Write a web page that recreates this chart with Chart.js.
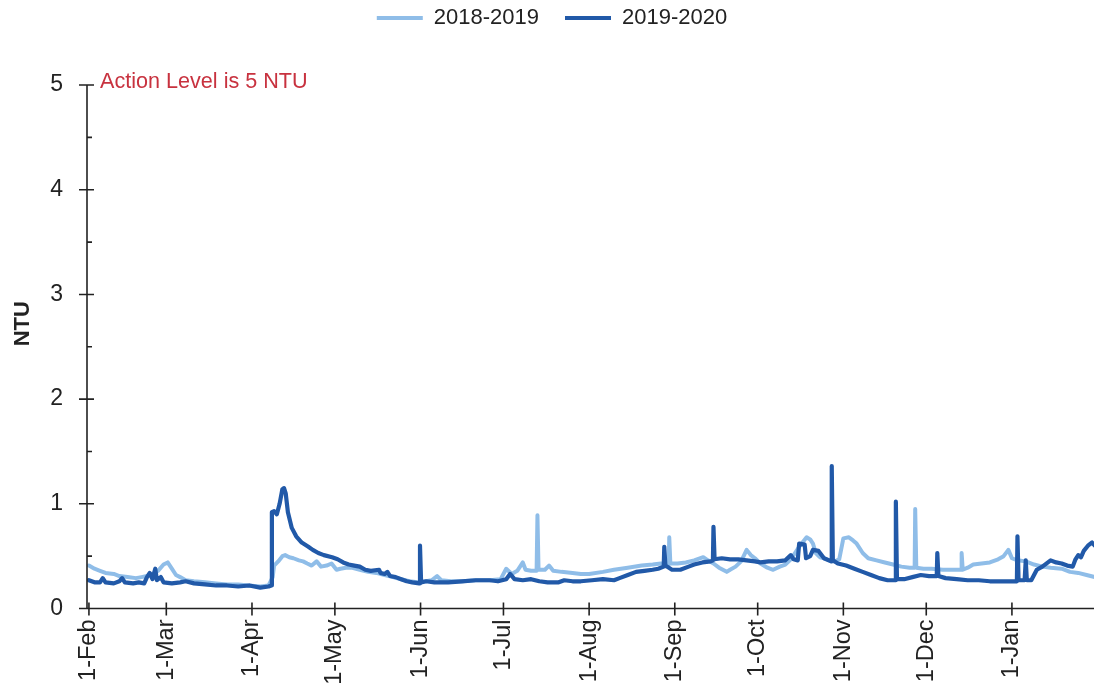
<!DOCTYPE html>
<html>
<head>
<meta charset="utf-8">
<title>Turbidity (NTU)</title>
<script src="https://cdn.jsdelivr.net/npm/chart.js@4.4.1/dist/chart.umd.min.js"></script>
<style>
  html, body { margin: 0; padding: 0; background: #ffffff; }
  #wrap { width: 1094px; height: 692px; position: relative; }
</style>
</head>
<body>
<div id="wrap"><canvas id="chart"></canvas></div>
<script>
// Day offsets (from 1-Feb) of the month ticks and their labels
const monthDays = [0, 28, 59, 89, 120, 150, 181, 212, 242, 273, 303, 334];
const monthLabels = ['1-Feb', '1-Mar', '1-Apr', '1-May', '1-Jun', '1-Jul', '1-Aug', '1-Sep', '1-Oct', '1-Nov', '1-Dec', '1-Jan'];
const ntuTicks = [0, 1, 2, 3, 4, 5];
const seriesNames = ['2018-2019', '2019-2020'];
const actionLevel = 5;

// 2018-2019 turbidity readings (day offset, NTU)
const days1819 = [0, 2, 4, 6, 9, 11, 14, 17, 19, 21, 23, 25, 27, 28.5, 30, 31.5, 33, 35, 38, 42, 46, 50, 54, 58, 62, 65,
  66.5, 67, 68.5, 70, 71, 72.5, 74, 76, 77.5, 79, 80.6, 82.4, 84, 86, 87.8, 89.6, 91, 93, 95, 98, 101, 104, 107, 110,
  113, 116, 119, 122, 124, 126, 127.5, 131, 135, 140, 145, 149, 151, 153, 155, 157, 158, 160, 162, 162.3, 162.7, 165,
  166.5, 168, 171, 175, 178, 181, 186, 190, 195, 200, 204, 207, 209.8, 210, 210.4, 213, 216, 219, 222.3, 224, 226, 228,
  230.8, 232, 234, 236, 238, 239.5, 241, 243, 245.5, 247.6, 250, 252, 254, 257, 259.7, 261, 262, 263, 264.5, 266, 268,
  270, 271.5, 273, 275, 276.5, 277.8, 280, 282, 285, 288, 291, 294, 297, 298.8, 299, 299.4, 302, 305, 309, 312, 315.6,
  315.8, 316.2, 318, 320, 323, 326, 329, 331, 332.7, 334, 336, 339, 342, 345, 348, 352, 355, 358, 361, 364];
const ntu1819 = [0.41, 0.38, 0.36, 0.34, 0.33, 0.31, 0.30, 0.29, 0.30, 0.31, 0.33, 0.36, 0.42, 0.44, 0.38, 0.32, 0.30, 0.27, 0.26, 0.25, 0.24, 0.23, 0.23, 0.22, 0.21, 0.22,
  0.30, 0.41, 0.45, 0.50, 0.51, 0.49, 0.48, 0.46, 0.45, 0.43, 0.41, 0.45, 0.40, 0.41, 0.43, 0.37, 0.38, 0.39, 0.39, 0.37, 0.35, 0.34, 0.32, 0.30,
  0.28, 0.26, 0.25, 0.26, 0.27, 0.31, 0.27, 0.26, 0.26, 0.27, 0.27, 0.28, 0.38, 0.33, 0.36, 0.44, 0.37, 0.36, 0.36, 0.89, 0.37, 0.37,
  0.41, 0.36, 0.35, 0.34, 0.33, 0.33, 0.35, 0.37, 0.39, 0.41, 0.42, 0.43, 0.42, 0.68, 0.43, 0.43, 0.44, 0.46, 0.49, 0.46, 0.43, 0.39,
  0.35, 0.37, 0.40, 0.45, 0.56, 0.51, 0.48, 0.43, 0.39, 0.37, 0.40, 0.42, 0.47, 0.59, 0.68, 0.66, 0.62, 0.53, 0.49, 0.48, 0.46,
  0.45, 0.47, 0.67, 0.68, 0.65, 0.62, 0.53, 0.48, 0.46, 0.44, 0.42, 0.40, 0.39, 0.39, 0.95, 0.39, 0.38, 0.38, 0.37, 0.37, 0.37,
  0.53, 0.37, 0.39, 0.42, 0.43, 0.44, 0.47, 0.50, 0.56, 0.48, 0.46, 0.45, 0.42, 0.40, 0.39, 0.38, 0.35, 0.34, 0.32, 0.30];

// 2019-2020 turbidity readings (day offset, NTU)
const days1920 = [0, 2, 4, 5, 6, 9, 11, 12, 13, 16, 18, 20, 21, 22, 23, 24, 24.6, 26, 27, 30, 33, 35, 38, 42, 46, 50, 54, 58, 62, 65,
  66, 66.2, 67, 68, 69, 70, 70.6, 71.2, 72, 73.4, 75, 77, 79.4, 81, 83, 85, 88, 90, 92, 94, 96, 98, 100, 102, 105, 105.5,
  107, 108, 109, 111, 113, 115, 117, 119.5, 119.8, 120.2, 122, 125, 130, 135, 140, 145, 148, 151, 152.4, 154, 157, 160,
  163, 166, 170, 172, 175, 178, 182, 186, 190, 192, 195, 198, 201, 204, 206, 208, 208.2, 208.6, 211, 214, 217, 219, 222,
  225, 225.8, 226, 226.4, 229, 232, 235, 238, 241, 243, 246, 249, 252, 254, 255, 256.5, 257, 259, 259.5, 261, 262, 264,
  266, 268.6, 268.8, 269.2, 271, 274, 277, 280, 283, 286, 289, 291.8, 292, 292.4, 295, 298, 301, 304, 306.8, 307, 307.4,
  310, 314, 318, 322, 326, 330, 333, 335.8, 336, 336.4, 338.6, 339, 339.4, 341, 343, 345, 348, 350, 352, 354, 356, 357,
  358, 359, 360, 361.5, 363, 364];
const ntu1920 = [0.27, 0.25, 0.25, 0.29, 0.25, 0.24, 0.26, 0.29, 0.25, 0.24, 0.25, 0.24, 0.30, 0.34, 0.28, 0.38, 0.27, 0.30, 0.25, 0.24, 0.25, 0.26, 0.24, 0.23, 0.22, 0.22, 0.21, 0.22, 0.20, 0.21,
  0.22, 0.92, 0.93, 0.90, 1.00, 1.14, 1.15, 1.10, 0.92, 0.77, 0.69, 0.63, 0.59, 0.56, 0.53, 0.51, 0.49, 0.47, 0.44, 0.42, 0.41, 0.40, 0.37, 0.36, 0.37, 0.34,
  0.33, 0.35, 0.31, 0.30, 0.28, 0.26, 0.25, 0.24, 0.60, 0.25, 0.26, 0.25, 0.25, 0.26, 0.27, 0.27, 0.26, 0.28, 0.33, 0.28, 0.27, 0.28,
  0.26, 0.25, 0.25, 0.27, 0.26, 0.26, 0.27, 0.28, 0.27, 0.29, 0.32, 0.35, 0.36, 0.37, 0.38, 0.40, 0.59, 0.41, 0.37, 0.37, 0.40, 0.42, 0.44,
  0.45, 0.46, 0.78, 0.47, 0.48, 0.47, 0.47, 0.46, 0.45, 0.44, 0.45, 0.45, 0.46, 0.51, 0.47, 0.46, 0.62, 0.61, 0.48, 0.50, 0.56, 0.55,
  0.48, 0.45, 1.36, 0.46, 0.43, 0.41, 0.38, 0.35, 0.32, 0.29, 0.27, 0.27, 1.02, 0.28, 0.28, 0.30, 0.32, 0.31, 0.31, 0.53, 0.31,
  0.29, 0.28, 0.27, 0.27, 0.26, 0.26, 0.26, 0.26, 0.69, 0.27, 0.27, 0.46, 0.27, 0.27, 0.37, 0.40, 0.46, 0.44, 0.43, 0.41, 0.40, 0.47,
  0.51, 0.49, 0.55, 0.60, 0.63, 0.60];

const lightBlue = '#8fbde8';
const darkBlue = '#2159a8';
const inkColor = '#222222';
const fontFamily = '"Liberation Sans", Arial, Helvetica, sans-serif';

const toPoints = (days, values) => days.map((d, i) => ({ x: d, y: values[i] }));

// Axis lines, crossing tick marks, half-unit minor ticks and the action-level note
const axisMarks = {
  id: 'axisMarks',
  afterDatasetsDraw(chart) {
    const { ctx, chartArea, scales } = chart;
    const xs = scales.x, ys = scales.y;
    const x0 = chartArea.left;
    const yZero = ys.getPixelForValue(0);
    const yTop = ys.getPixelForValue(ntuTicks[ntuTicks.length - 1]);
    ctx.save();
    ctx.strokeStyle = inkColor;
    ctx.lineWidth = 1.6;
    ctx.beginPath();
    ctx.moveTo(x0, yTop);
    ctx.lineTo(x0, yZero);
    ctx.moveTo(x0, yZero);
    ctx.lineTo(chartArea.right, yZero);
    ntuTicks.forEach(v => {
      const y = ys.getPixelForValue(v);
      ctx.moveTo(x0 - 8, y);
      ctx.lineTo(x0 + 7, y);
    });
    for (let i = 0; i < ntuTicks.length - 1; i++) {
      const y = ys.getPixelForValue((ntuTicks[i] + ntuTicks[i + 1]) / 2);
      ctx.moveTo(x0, y);
      ctx.lineTo(x0 + 5, y);
    }
    monthDays.forEach(d => {
      const x = xs.getPixelForValue(d);
      ctx.moveTo(x, yZero - 6);
      ctx.lineTo(x, yZero + 7);
    });
    ctx.stroke();

    ctx.fillStyle = '#c8323f';
    ctx.font = '21.6px ' + fontFamily;
    ctx.textAlign = 'left';
    ctx.textBaseline = 'middle';
    ctx.fillText('Action Level is ' + actionLevel + ' NTU', x0 + 13, ys.getPixelForValue(actionLevel) - 3);
    ctx.restore();
  }
};

new Chart(document.getElementById('chart'), {
  type: 'line',
  data: {
    datasets: [
      {
        label: seriesNames[0],
        data: toPoints(days1819, ntu1819),
        borderColor: lightBlue,
        backgroundColor: lightBlue,
        borderWidth: 4,
        order: 1
      },
      {
        label: seriesNames[1],
        data: toPoints(days1920, ntu1920),
        borderColor: darkBlue,
        backgroundColor: darkBlue,
        borderWidth: 4.2,
        order: 0
      }
    ]
  },
  plugins: [axisMarks],
  options: {
    responsive: true,
    maintainAspectRatio: false,
    animation: false,
    devicePixelRatio: 1,
    layout: { padding: { top: -19, left: 10, right: 0, bottom: 0 } },
    elements: {
      point: { radius: 0, hoverRadius: 0 },
      line: { tension: 0, borderJoinStyle: 'round', borderCapStyle: 'round' }
    },
    plugins: {
      tooltip: { enabled: false },
      legend: {
        position: 'top',
        align: 'center',
        labels: {
          color: inkColor,
          font: { family: fontFamily, size: 22 },
          boxWidth: 46,
          boxHeight: 4,
          padding: 26,
          sort: (a, b) => a.datasetIndex - b.datasetIndex,
          generateLabels: (chart) =>
            Chart.defaults.plugins.legend.labels.generateLabels(chart).map(item => ({ ...item, lineWidth: 0 }))
        }
      }
    },
    scales: {
      x: {
        type: 'linear',
        min: -0.7,
        max: 363.7,
        grid: { display: false, drawTicks: false, tickLength: 0 },
        border: { display: false },
        afterBuildTicks: (scale) => { scale.ticks = monthDays.map(v => ({ value: v })); },
        afterFit: (scale) => { scale.height = 83.5; },
        ticks: {
          autoSkip: false,
          minRotation: 90,
          maxRotation: 90,
          padding: 11,
          color: inkColor,
          font: { family: fontFamily, size: 23.5 },
          callback: (value, index) => monthLabels[index]
        }
      },
      y: {
        type: 'linear',
        min: 0,
        max: 5.44,
        grid: { display: false, drawTicks: false, tickLength: 0 },
        border: { display: false },
        afterBuildTicks: (scale) => { scale.ticks = ntuTicks.map(v => ({ value: v })); },
        afterFit: (scale) => { scale.width = 77; },
        title: {
          display: true,
          text: 'NTU',
          color: inkColor,
          font: { family: fontFamily, size: 22, weight: 'bold' },
          padding: { top: 0, bottom: 0 }
        },
        ticks: {
          padding: 24,
          color: inkColor,
          font: { family: fontFamily, size: 23 },
          callback: (value) => String(value)
        }
      }
    }
  }
});
</script>
</body>
</html>
